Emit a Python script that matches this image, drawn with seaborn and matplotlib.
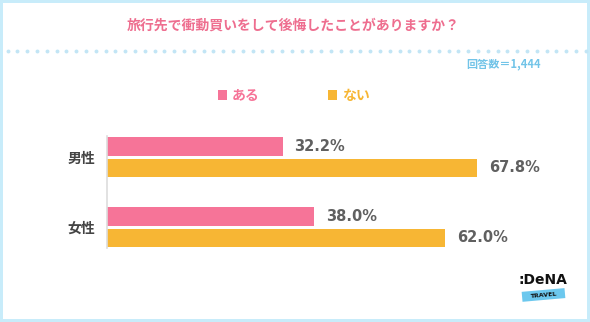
import numpy as np
import pandas as pd
import matplotlib
matplotlib.use("Agg")
import matplotlib.pyplot as plt
from matplotlib.patches import Rectangle
import matplotlib.transforms as mtransforms
import seaborn as sns

# ---- data ----
categories = ["男性", "女性"]
answers = ["ある", "ない"]
values_aru = [32.2, 38.0]
values_nai = [67.8, 62.0]
title = "旅行先で衝動買いをして後悔したことがありますか？"
note = "回答数＝1,444"

df = pd.DataFrame({
    "category": categories * 2,
    "answer": [answers[0]] * len(categories) + [answers[1]] * len(categories),
    "value": values_aru + values_nai,
})

PINK = "#F67498"
ORANGE = "#F7B634"
TITLE_PINK = "#EE6E8F"
BORDER = "#C8ECFA"
DOT = "#C2E5F5"
NOTE_BLUE = "#72C4E8"

sns.set_style("white")
plt.rcParams["font.family"] = ["Noto Sans CJK JP", "DejaVu Sans"]

W, H = 590, 322
fig = plt.figure(figsize=(W / 100, H / 100), dpi=100)
fig.patch.set_facecolor(BORDER)
fig.patches.append(Rectangle((3 / W, 3 / H), (586.5 - 3) / W, (319 - 3) / H,
                             transform=fig.transFigure, facecolor="white",
                             edgecolor="none", zorder=-10))

# axes: left at x=107px, right at 586px; y from 120px to 265px
ax_left, ax_right = 107, 586
ax_top, ax_bot = 120, 265
ax = fig.add_axes([ax_left / W, 1 - ax_bot / H, (ax_right - ax_left) / W, (ax_bot - ax_top) / H])
ax.set_facecolor("none")

sns.barplot(data=df, y="category", x="value", hue="answer", orient="h",
            palette=[PINK, ORANGE], saturation=1, width=0.61, gap=0.125,
            linewidth=0, ax=ax, legend=False)

px_per_pct = 545.7 / 100
ax.set_xlim(0, (ax_right - ax_left) / px_per_pct)
c0, c1 = 157.3, 227.2
ppu = c1 - c0
ax.set_ylim(1 + (ax_bot - c1) / ppu, 0 - (c0 - ax_top) / ppu)

for s in ["top", "right", "bottom"]:
    ax.spines[s].set_visible(False)
ax.spines["left"].set_color("#DDDDDD")
ax.spines["left"].set_linewidth(1.2)
ax.spines["left"].set_bounds(0 - 21.3 / ppu, 1 + 21.1 / ppu)

ax.set_xticks([])
ax.set_xlabel("")
ax.set_ylabel("")
ax.tick_params(axis="y", length=0, pad=8.5)
for lab in ax.get_yticklabels():
    lab.set_fontsize(10)
    lab.set_fontweight("bold")
    lab.set_color("#444444")

for cont in ax.containers:
    ax.bar_label(cont, fmt="%.1f%%", padding=8.5, fontsize=10.5,
                 fontweight="semibold", color="#606060", family="DejaVu Sans")

# legend
handles = [Rectangle((0, 0), 1, 1, facecolor=c, edgecolor="none") for c in (PINK, ORANGE)]
leg = fig.legend(handles, answers, ncol=2, loc="center left",
                 bbox_to_anchor=(218 / W, 1 - 96 / H), frameon=False,
                 fontsize=10, handlelength=0.65, handleheight=0.65,
                 handletextpad=0.35, columnspacing=4.9, borderpad=0, borderaxespad=0)
for t, c in zip(leg.get_texts(), (PINK, ORANGE)):
    t.set_color(c)
    t.set_fontweight("bold")

# title
fig.text(293.5 / W, 1 - 26 / H, title, ha="center", va="center", fontsize=10,
         fontweight="bold", color=TITLE_PINK)

# dotted separator
xs = np.arange(7.5, 586, 9.8)
fig.add_artist(plt.Line2D(xs / W, np.full_like(xs, 1 - 51 / H), transform=fig.transFigure,
                          linestyle="none", marker="o", markersize=2.8,
                          markerfacecolor=DOT, markeredgecolor="none"))

# note
fig.text(541 / W, 1 - 64 / H, note, ha="right", va="center", fontsize=8,
         fontweight="bold", color=NOTE_BLUE)

# logo
fig.text(543 / W, 1 - 280 / H, ":DeNA", ha="center", va="center", fontsize=10,
         fontweight="bold", color="#111111", family="DejaVu Sans")
band = Rectangle((522, H - 300), 43, 10, facecolor="#6CC8EE", edgecolor="none",
                 transform=mtransforms.Affine2D().rotate_deg_around(543, H - 295, 5))
fig.add_artist(band)
fig.text(543 / W, 1 - 295 / H, "TRAVEL", ha="center", va="center", fontsize=4.5,
         fontweight="bold", color="#111111", family="DejaVu Sans", rotation=5)

fig.savefig("out.png", dpi=100, facecolor=fig.get_facecolor())
